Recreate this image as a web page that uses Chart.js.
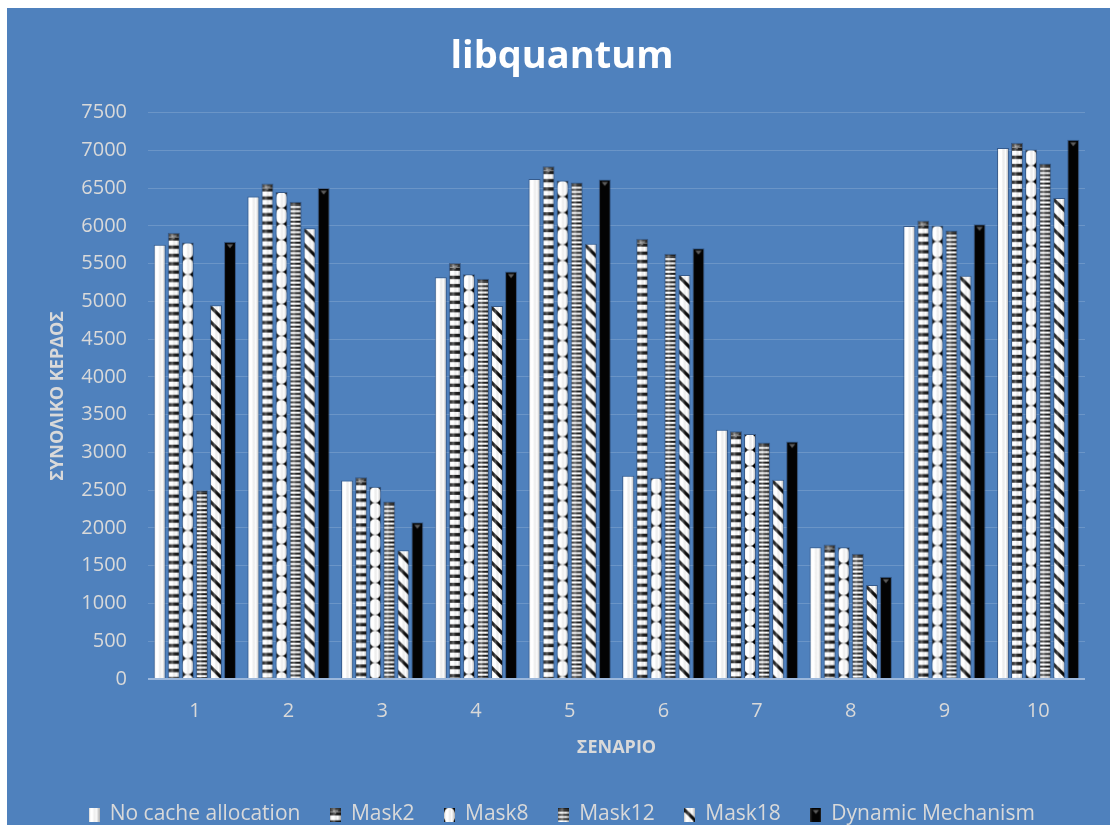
<!DOCTYPE html>
<html>
<head>
<meta charset="utf-8">
<script src="https://cdn.jsdelivr.net/npm/chart.js@4.4.1/dist/chart.umd.min.js"></script>
<style>
  html, body { margin: 0; padding: 0; background: #ffffff; overflow: hidden; }
  #panel { position: absolute; left: 7px; top: 8px; width: 1103px; height: 817px; background: #4F81BD; overflow: hidden; }
  #chart { display: block; }
</style>
</head>
<body>
<div id="panel"><canvas id="chart" width="1103" height="827"></canvas></div>
<script>
// Scenarios on the x axis
const scenarios = ['1', '2', '3', '4', '5', '6', '7', '8', '9', '10'];

// Total gain per scenario for each cache policy
const noCacheAllocation = [5750, 6390, 2630, 5320, 6620, 2690, 3300, 1745, 6000, 7030];
const mask2             = [5910, 6560, 2670, 5510, 6790, 5830, 3280, 1780, 6070, 7100];
const mask8             = [5780, 6450, 2545, 5360, 6600, 2665, 3245, 1745, 6005, 7010];
const mask12            = [2500, 6320, 2350, 5300, 6575, 5630, 3130, 1660, 5940, 6825];
const mask18            = [4950, 5970, 1705, 4940, 5765, 5350, 2640, 1245, 5340, 6370];
const dynamicMechanism  = [5790, 6500, 2075, 5395, 6615, 5705, 3145, 1355, 6020, 7140];

const seriesNames = ['No cache allocation', 'Mask2', 'Mask8', 'Mask12', 'Mask18', 'Dynamic Mechanism'];
const seriesValues = [noCacheAllocation, mask2, mask8, mask12, mask18, dynamicMechanism];
const fillKinds = ['plain', 'stripes', 'beads', 'fine', 'diagonal', 'solid'];

// Axis range
const yMin = 0, yMax = 7500, yStep = 500;

const CAT_PCT = 0.9;
const BAR_PCT = 0.86;
const TEXT = '#d9d9d9';

// ---- bar textures -------------------------------------------------------
function cylinderShade(g, w, h, strength) {
  const gr = g.createLinearGradient(0, 0, w, 0);
  gr.addColorStop(0, 'rgba(0,0,0,' + (0.30 * strength) + ')');
  gr.addColorStop(0.18, 'rgba(255,255,255,' + (0.10 * strength) + ')');
  gr.addColorStop(0.38, 'rgba(255,255,255,' + (0.30 * strength) + ')');
  gr.addColorStop(0.7, 'rgba(0,0,0,0)');
  gr.addColorStop(1, 'rgba(0,0,0,' + (0.35 * strength) + ')');
  g.fillStyle = gr;
  g.fillRect(0, 0, w, h);
}

function capTriangle(g, w, color) {
  g.fillStyle = color;
  g.beginPath();
  g.moveTo(w / 2 - 3.2, 2.5);
  g.lineTo(w / 2 + 3.2, 2.5);
  g.lineTo(w / 2, 6.5);
  g.closePath();
  g.fill();
}

function paintTile(g, kind, w, h) {
  g.clearRect(0, 0, w + 2, h);
  if (kind === 'plain') {
    g.fillStyle = '#ffffff';
    g.fillRect(0, 0, w, h);
    cylinderShade(g, w, h, 0.9);
  } else if (kind === 'stripes') {
    g.fillStyle = '#ffffff';
    g.fillRect(0, 0, w, h);
    g.fillStyle = '#1c1c1c';
    for (let y = 0; y < h; y += 8.3) g.fillRect(0, y + 4.5, w, 3.4);
    g.fillStyle = '#3a3a3a';
    g.fillRect(0, 0, w, 4);
    capTriangle(g, w, '#8a8a8a');
    cylinderShade(g, w, h, 1);
  } else if (kind === 'fine') {
    g.fillStyle = '#ffffff';
    g.fillRect(0, 0, w, h);
    g.fillStyle = '#1e1e1e';
    for (let y = 0; y < h; y += 4.2) g.fillRect(0, y + 2.2, w, 2);
    g.fillRect(0, 0, w, 2);
    cylinderShade(g, w, h, 1);
  } else if (kind === 'beads') {
    g.fillStyle = '#050505';
    g.fillRect(0, 0, w, h);
    g.fillStyle = '#ffffff';
    for (let y = 8; y < h + 16; y += 16) {
      g.beginPath();
      g.ellipse(w / 2, y, w / 2 + 0.2, 8.1, 0, 0, Math.PI * 2);
      g.fill();
    }
    cylinderShade(g, w, h, 0.9);
  } else if (kind === 'diagonal') {
    g.fillStyle = '#ffffff';
    g.fillRect(0, 0, w, h);
    g.strokeStyle = '#0a0a0a';
    g.lineWidth = 3.2;
    for (let y = -w - 4; y < h + 4; y += 15) {
      g.beginPath();
      g.moveTo(-2, y);
      g.lineTo(w + 2, y + w + 4);
      g.stroke();
    }
    cylinderShade(g, w, h, 0.9);
  } else {
    g.fillStyle = '#030303';
    g.fillRect(0, 0, w, h);
    g.fillStyle = '#262626';
    g.fillRect(0, 0, 1.2, h);
    g.fillRect(w - 1.2, 0, 1.2, h);
    capTriangle(g, w, '#5c5c5c');
  }
}

const tileCache = {};
function barTile(kind, w) {
  const key = kind + ':' + w.toFixed(2);
  if (!tileCache[key]) {
    const c = document.createElement('canvas');
    c.width = Math.ceil(w) + 2;
    c.height = 620;
    paintTile(c.getContext('2d'), kind, w, c.height);
    tileCache[key] = c;
  }
  return tileCache[key];
}

function legendIcon(kind) {
  const c = document.createElement('canvas');
  c.width = 11; c.height = 14;
  paintTile(c.getContext('2d'), kind, 11, 14);
  return c;
}

// Texture for one bar, anchored to the bar's own left edge and top
function barFill(context) {
  const chart = context.chart;
  const kind = fillKinds[context.datasetIndex];
  if (context.type !== 'data') return '#ffffff';
  const xs = chart.scales.x, ys = chart.scales.y;
  if (!xs || !ys || !(xs.right > xs.left)) return '#ffffff';
  const n = chart.data.labels.length;
  const count = chart.data.datasets.length;
  const group = (xs.right - xs.left) / n * CAT_PCT;
  const slot = group / count;
  const barW = slot * BAR_PCT;
  const left = xs.getPixelForValue(context.dataIndex) - group / 2 + slot * context.datasetIndex + (slot - barW) / 2;
  const top = ys.getPixelForValue(context.raw);
  const pat = chart.ctx.createPattern(barTile(kind, barW), 'no-repeat');
  pat.setTransform(new DOMMatrix().translate(left, top));
  return pat;
}

const datasets = seriesNames.map((name, i) => ({
  label: name,
  data: seriesValues[i],
  backgroundColor: barFill,
  borderColor: 'rgba(25,45,80,0.45)',
  borderWidth: 1,
  borderSkipped: 'bottom',
  categoryPercentage: CAT_PCT,
  barPercentage: BAR_PCT
}));

const icons = fillKinds.map(legendIcon);

new Chart(document.getElementById('chart'), {
  type: 'bar',
  data: { labels: scenarios, datasets },
  options: {
    responsive: false,
    animation: false,
    devicePixelRatio: 1,
    layout: { padding: { left: 32, right: 25, top: 0, bottom: 0 } },
    plugins: {
      title: {
        display: true,
        text: 'libquantum',
        color: '#ffffff',
        font: { family: 'Open Sans', size: 38, weight: 'bold', lineHeight: 1.2 },
        padding: { top: 26, bottom: 33 }
      },
      legend: {
        position: 'bottom',
        labels: {
          color: TEXT,
          font: { family: 'Open Sans', size: 21 },
          padding: 30,
          boxWidth: 10,
          boxHeight: 14,
          usePointStyle: true,
          generateLabels(chart) {
            return chart.data.datasets.map((d, i) => ({
              text: d.label,
              pointStyle: icons[i],
              fillStyle: '#ffffff',
              strokeStyle: 'rgba(0,0,0,0)',
              lineWidth: 0,
              hidden: false,
              datasetIndex: i,
              fontColor: TEXT
            }));
          }
        }
      },
      tooltip: { enabled: false }
    },
    scales: {
      x: {
        grid: { display: false },
        border: { display: false },
        ticks: { color: TEXT, font: { family: 'Open Sans', size: 20 }, padding: 12 },
        title: {
          display: true,
          text: 'ΣΕΝΑΡΙΟ',
          color: TEXT,
          font: { family: 'Open Sans', size: 18, weight: 'bold', lineHeight: 1.2 },
          padding: { top: 0, bottom: 15 }
        },
        afterFit(scale) { scale.height = 95; }
      },
      y: {
        min: yMin,
        max: yMax,
        ticks: {
          stepSize: yStep,
          color: TEXT,
          font: { family: 'Open Sans', size: 20 },
          padding: 21,
          callback: (v) => String(v)
        },
        grid: {
          drawTicks: false,
          color: (c) => c.tick && c.tick.value === 0 ? 'rgba(220,230,245,0.55)' : 'rgba(255,255,255,0.16)',
          lineWidth: (c) => c.tick && c.tick.value === 0 ? 2 : 1
        },
        border: { display: false },
        title: {
          display: true,
          text: 'ΣΥΝΟΛΙΚΟ ΚΕΡΔΟΣ',
          color: TEXT,
          font: { family: 'Open Sans', size: 18, weight: 'bold', lineHeight: 1.2 },
          padding: { top: 8, bottom: 0 }
        },
        afterFit(scale) { scale.width = 109; }
      }
    }
  }
});
</script>
</body>
</html>
